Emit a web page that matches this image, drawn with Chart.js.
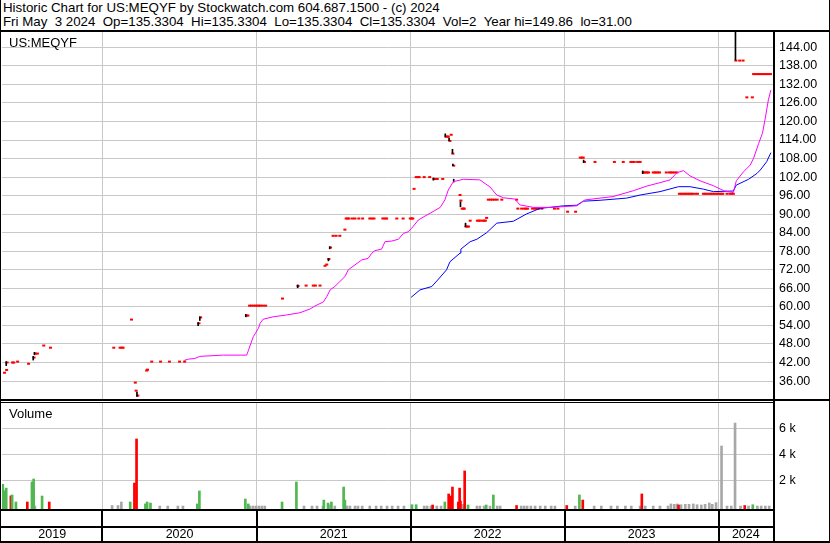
<!DOCTYPE html>
<html>
<head>
<meta charset="utf-8">
<script src="https://cdn.jsdelivr.net/npm/chart.js@4.4.1/dist/chart.umd.min.js"></script>
<style>
    body { margin: 0; background: #fff; }
    #wrap { position: relative; width: 830px; height: 543px; overflow: hidden; font-family: "Liberation Sans", Arial, sans-serif; color: #000; }
    .txt { position: absolute; white-space: pre; }
    .rule { position: absolute; background: #000; }
    canvas { position: absolute; left: 0; }
</style>
</head>
<body>
<div id="wrap">
    <div class="txt" style="left:3px;top:1px;font-size:13.3px;line-height:14px">Historic Chart for US:MEQYF by Stockwatch.com 604.687.1500 - (c) 2024</div>
    <div class="txt" style="left:3px;top:15px;font-size:13.3px;line-height:14px">Fri May  3 2024  Op=135.3304  Hi=135.3304  Lo=135.3304  Cl=135.3304  Vol=2  Year hi=149.86  lo=31.00</div>

    <canvas id="priceChart" width="830" height="367" style="top:32px"></canvas>
    <canvas id="volumeChart" width="830" height="140" style="top:403px"></canvas>

    <div class="txt" style="left:9px;top:36px;font-size:13px;line-height:13px">US:MEQYF</div>
    <div class="txt" style="left:9px;top:407px;font-size:13px;line-height:13px">Volume</div>

    <!-- frame -->
    <div class="rule" style="left:0;top:0;width:1px;height:543px"></div>
    <div class="rule" style="left:829px;top:0;width:1px;height:543px"></div>
    <div class="rule" style="left:0;top:541px;width:830px;height:2px"></div>
    <div class="rule" style="left:0;top:30px;width:830px;height:2px"></div>
    <div class="rule" style="left:773px;top:30px;width:2px;height:513px"></div>
    <div class="rule" style="left:0;top:399px;width:830px;height:2px"></div>
    <div class="rule" style="left:0;top:402px;width:773px;height:1px"></div>
    <div class="rule" style="left:0;top:509px;width:773px;height:2px"></div>
    <div class="rule" style="left:0;top:526px;width:773px;height:2px"></div>
</div>

<script>
// x values are days counted from 1 Jan 2020
const xFirst = -238;
const xLast = 1590;
const yearStarts = [0, 366, 731, 1096, 1461];
const yearNames = ['2019', '2020', '2021', '2022', '2023', '2024'];

const priceMin = 30.2;
const priceMax = 148.95;
const priceTicks = [36, 42, 48, 54, 60, 66, 72, 78, 84, 90, 96, 102, 108, 114, 120, 126, 132, 138, 144];

const volMin = -208;
const volMax = 7946;
const volTicks = [2000, 4000, 6000];

// daily close ticks [day, price]
const closes = [
    [-232, 38.7], [-227, 39.6], [-226, 42.0], [-213, 42.0], [-210, 42.0], [-201, 42.3], [-175, 41.6],
    [-162, 43.6], [-159, 44.9], [-154, 44.9], [-139, 47.5], [-123, 46.8],
    [27, 46.8], [42, 46.8], [46, 46.8], [49, 46.8], [69, 55.9], [78, 35.5], [80, 32.9], [84, 31.3],
    [105, 39.4], [107, 39.7], [117, 42.3], [138, 42.3], [159, 42.3], [183, 42.3], [195, 42.3],
    [229, 54.7], [233, 56.6], [342, 57.2], [345, 57.2], [349, 60.4], [353, 60.4], [358, 60.4],
    [363, 60.4], [367, 60.4], [371, 60.4], [375, 60.4], [381, 60.4], [387, 60.4],
    [427, 62.7], [464, 66.8], [483, 66.9], [500, 66.9], [505, 66.9], [516, 66.9], [528, 73.3],
    [532, 73.7], [537, 75.5], [541, 79.2], [547, 83.0], [554, 83.0], [563, 83.0], [575, 85.0],
    [578, 88.6], [581, 88.6], [585, 88.6], [593, 88.6], [599, 88.6], [608, 88.6], [617, 88.6],
    [634, 88.6], [639, 88.6], [644, 88.6], [665, 88.6], [670, 88.6], [674, 88.6], [698, 88.6],
    [713, 88.6], [730, 88.6], [733, 88.6], [736, 88.6], [739, 98.2],
    [744, 102.0], [748, 102.0], [751, 102.0], [763, 102.0], [776, 102.0], [786, 101.4], [790, 101.4],
    [794, 101.4], [807, 101.4], [815, 115.1], [818, 115.1], [820, 115.1], [824, 113.7], [827, 115.7],
    [831, 109.6], [833, 105.7], [848, 96.2], [850, 94.4], [853, 91.8], [856, 91.8], [858, 91.8],
    [862, 86.0], [865, 86.0], [868, 86.0], [872, 87.9], [889, 87.9], [893, 87.9], [896, 87.9],
    [902, 87.9], [905, 87.9], [908, 87.9], [911, 88.8], [915, 94.7], [920, 94.7], [925, 94.7],
    [930, 94.7], [936, 94.7], [947, 94.7], [982, 94.7], [985, 91.8], [994, 91.8], [1000, 91.8],
    [1004, 91.8], [1008, 91.8], [1020, 91.8], [1025, 91.8], [1030, 91.8], [1034, 91.8], [1042, 91.8],
    [1072, 91.8], [1080, 91.8], [1103, 90.8], [1122, 90.8],
    [1133, 108.3], [1137, 108.3], [1140, 108.3], [1143, 106.9], [1168, 106.9], [1214, 106.9],
    [1235, 106.9], [1253, 106.9], [1257, 106.9], [1261, 106.9], [1269, 106.9], [1275, 106.9],
    [1283, 103.5], [1286, 103.5], [1289, 103.5], [1292, 103.5], [1295, 103.5], [1306, 103.5],
    [1310, 103.5], [1313, 103.5], [1317, 103.5], [1321, 103.5], [1337, 103.5], [1344, 103.5],
    [1348, 103.5], [1352, 103.5], [1357, 103.5], [1362, 103.5],
    [1368, 96.6], [1372, 96.6], [1376, 96.6], [1380, 96.6], [1384, 96.6], [1388, 96.6], [1392, 96.6],
    [1396, 96.6], [1399, 96.6], [1405, 96.6], [1411, 96.6], [1425, 96.6], [1429, 96.6], [1433, 96.6],
    [1438, 96.6], [1442, 96.6], [1446, 96.6], [1450, 96.6], [1455, 96.6], [1459, 96.6], [1463, 96.6],
    [1467, 96.6], [1471, 96.6], [1481, 96.6], [1488, 96.6], [1492, 96.6], [1496, 96.6],
    [1502, 139.7], [1511, 139.7], [1519, 139.7], [1528, 127.8], [1541, 127.8],
    [1544, 135.33], [1548, 135.33], [1552, 135.33], [1556, 135.33], [1560, 135.33], [1564, 135.33],
    [1568, 135.33], [1572, 135.33], [1576, 135.33], [1580, 135.33], [1584, 135.33]
];

// high-low ranges [day, low, high]
const ranges = [
    [-228, 41.0, 42.3], [-164, 42.8, 44.0], [-161, 44.5, 45.3], [82, 31.0, 32.4], [227, 53.9, 54.9],
    [231, 55.6, 56.8], [340, 56.8, 57.6], [463, 66.2, 67.1], [536, 74.9, 75.7], [539, 78.8, 79.5],
    [785, 101.0, 101.7], [813, 115.0, 116.0], [822, 113.8, 114.6], [830, 109.7, 111.0],
    [831, 105.7, 106.2], [833, 100.4, 101.3], [849, 92.4, 94.0], [861, 86.0, 87.1],
    [1141, 106.7, 107.5], [1281, 103.1, 104.0], [1501, 139.9, 149.86]
];

// moving averages [day, value]
const avgFast = [
    [194, 42.7], [204, 43.1], [219, 43.3], [231, 44.0], [287, 44.4], [342, 44.4], [346, 45.8],
    [352, 48.2], [358, 50.4], [363, 51.5], [370, 53.1], [374, 54.7], [381, 56.0], [405, 56.8],
    [437, 57.4], [468, 58.1], [492, 59.3], [504, 60.3], [524, 61.6], [532, 63.3], [540, 65.5],
    [551, 66.6], [563, 68.2], [575, 69.8], [583, 72.0], [599, 73.6], [615, 75.2], [630, 75.7],
    [639, 77.4], [646, 78.2], [662, 78.7], [670, 81.1], [686, 81.3], [702, 81.9], [714, 83.8],
    [725, 84.3], [733, 85.4], [749, 88.1], [765, 89.4], [777, 90.3], [801, 92.2], [812, 94.6],
    [820, 97.8], [832, 100.5], [856, 101.3], [895, 101.1], [919, 98.8], [935, 96.2], [951, 95.3],
    [978, 94.9], [990, 93.0], [1022, 92.2], [1061, 92.2], [1125, 92.7], [1144, 94.6], [1180, 95.2],
    [1211, 95.7], [1259, 97.6], [1291, 99.1], [1322, 100.2], [1346, 101.1], [1362, 103.4],
    [1378, 104.1], [1393, 102.4], [1417, 100.8], [1449, 99.2], [1473, 97.6], [1496, 97.0],
    [1503, 100.8], [1520, 103.7], [1536, 105.9], [1544, 108.1], [1556, 112.9], [1565, 116.2],
    [1571, 120.5], [1579, 127.0], [1585, 130.2]
];
const avgSlow = [
    [732, 63.1], [753, 65.5], [781, 66.6], [793, 68.4], [816, 72.0], [824, 74.6], [848, 77.4],
    [850, 78.7], [872, 81.1], [888, 81.9], [911, 84.0], [935, 87.1], [974, 87.7], [1006, 90.1],
    [1038, 91.9], [1061, 92.2], [1093, 92.7], [1125, 92.9], [1140, 94.2], [1180, 94.5], [1243, 95.2],
    [1275, 96.2], [1322, 97.3], [1366, 98.9], [1393, 98.9], [1425, 98.1], [1449, 97.3], [1496, 97.5],
    [1503, 99.4], [1532, 101.3], [1552, 103.2], [1560, 104.3], [1575, 107.0], [1585, 109.9]
];

// volume [day, shares]
const volUp = [
    [-236, 1700], [-232, 1200], [-228, 1400], [-214, 870], [-205, 330], [-167, 1870], [-163, 2100],
    [-143, 790], [66, 330], [102, 180], [106, 330], [114, 250], [225, 180], [230, 1180], [339, 560],
    [346, 180], [426, 330], [460, 1870], [525, 480], [535, 250], [543, 330], [572, 1480], [575, 480],
    [734, 120], [744, 120], [812, 330], [867, 100], [910, 100], [927, 870], [1131, 870], [1542, 120]
];
const volDown = [
    [-217, 800], [-178, 330], [-126, 330], [76, 1790], [81, 5180], [783, 100], [821, 950], [826, 790],
    [830, 1480], [844, 330], [847, 1400], [849, 400], [859, 2720], [982, 60], [1101, 60], [1139, 480],
    [1279, 950], [1366, 100], [1523, 60]
];
const volFlat = [
    [-160, 20], [23, 60], [37, 60], [45, 330], [136, 20], [155, 20], [179, 20], [191, 20], [350, 20],
    [357, 20], [364, 20], [371, 20], [378, 20], [385, 20], [478, 20], [497, 20], [509, 20], [523, 20],
    [537, 100], [551, 20], [580, 20], [587, 20], [599, 20], [606, 20], [616, 20], [634, 20], [649, 20],
    [661, 20], [675, 20], [687, 20], [701, 20], [715, 20], [763, 20], [770, 20], [779, 20], [793, 20],
    [803, 20], [854, 150], [888, 20], [895, 20], [905, 20], [919, 20], [936, 20], [943, 20], [993, 20],
    [1000, 20], [1007, 20], [1016, 20], [1026, 20], [1038, 20], [1050, 20], [1064, 20], [1073, 20],
    [1121, 20], [1166, 20], [1183, 20], [1206, 20], [1221, 20], [1240, 20], [1254, 20], [1275, 20],
    [1287, 20], [1306, 20], [1322, 20], [1341, 20], [1348, 180], [1356, 150], [1363, 180], [1372, 120],
    [1382, 150], [1391, 150], [1401, 180], [1410, 120], [1420, 100], [1429, 150], [1439, 250],
    [1446, 150], [1455, 280], [1468, 4640], [1481, 20], [1491, 20], [1500, 6400], [1513, 20],
    [1532, 20], [1553, 20], [1562, 20], [1572, 20], [1581, 20]
];

const gridColor = '#c8c8c8';
Chart.defaults.font.family = '"Liberation Sans", Arial, sans-serif';
Chart.defaults.color = '#000';

const toXY = rows => rows.map(([x, y]) => ({ x, y }));

// label positions: middle of each visible year
const yearEdges = [xFirst, ...yearStarts, xLast];
const yearMids = yearNames.map((n, i) => (yearEdges[i] + yearEdges[i + 1]) / 2);

// keep the plot area flush with the panel edges
function noPadding(scale) {
    scale.paddingTop = 0;
    scale.paddingBottom = 0;
    scale.paddingLeft = 0;
    scale.paddingRight = 0;
}

function timeAxis() {
    return {
        type: 'linear',
        min: xFirst,
        max: xLast,
        offset: false,
        afterBuildTicks: scale => { scale.ticks = yearStarts.map(v => ({ value: v })); },
        grid: { color: gridColor, drawTicks: false, offset: false },
        border: { display: false },
        ticks: { display: false },
        afterFit: scale => { scale.height = 0; noPadding(scale); }
    };
}

function valueAxis(min, max, ticks, fmt) {
    return {
        position: 'right',
        min: min,
        max: max,
        afterBuildTicks: scale => { scale.ticks = ticks.map(v => ({ value: v })); },
        grid: { color: gridColor, drawTicks: false },
        border: { display: false },
        ticks: { padding: 6, font: { size: 12.5 }, callback: fmt },
        afterFit: scale => { scale.width = 57; noPadding(scale); }
    };
}

// black dividers between the year cells under the volume panel
const yearCells = {
    id: 'yearCells',
    afterDraw(chart) {
        const ctx = chart.ctx;
        const x = chart.scales.x;
        const bottom = chart.chartArea.bottom;
        ctx.save();
        ctx.fillStyle = '#000';
        yearStarts.forEach(d => {
            const px = Math.round(x.getPixelForValue(d));
            ctx.fillRect(px - 1, bottom, 2, chart.height - bottom);
        });
        ctx.restore();
    }
};

new Chart(document.getElementById('priceChart'), {
    type: 'scatter',
    data: {
        datasets: [
            {
                type: 'line',
                data: toXY(avgFast),
                borderColor: '#ff00ff',
                borderWidth: 1,
                pointRadius: 0,
                tension: 0
            },
            {
                type: 'line',
                data: toXY(avgSlow),
                borderColor: '#0000ff',
                borderWidth: 1,
                pointRadius: 0,
                tension: 0
            },
            {
                type: 'bar',
                data: ranges.map(([x, lo, hi]) => ({ x, y: [lo, hi] })),
                backgroundColor: '#000',
                barThickness: 1,
                grouped: false
            },
            {
                type: 'scatter',
                data: toXY(closes),
                pointStyle: 'line',
                pointRadius: 1.5,
                pointBorderWidth: 2,
                pointBorderColor: '#ff0000',
                borderColor: '#ff0000'
            }
        ]
    },
    options: {
        responsive: false,
        animation: false,
        events: [],
        layout: { padding: { left: 2 }, autoPadding: false },
        plugins: { legend: { display: false }, tooltip: { enabled: false } },
        scales: {
            x: timeAxis(),
            y: valueAxis(priceMin, priceMax, priceTicks, v => v.toFixed(2))
        }
    }
});

new Chart(document.getElementById('volumeChart'), {
    type: 'bar',
    data: {
        datasets: [
            { data: toXY(volUp), backgroundColor: '#50b850' },
            { data: toXY(volDown), backgroundColor: '#ff0000' },
            { data: toXY(volFlat), backgroundColor: '#a8a8a8' }
        ]
    },
    options: {
        responsive: false,
        animation: false,
        events: [],
        layout: { padding: { left: 2 }, autoPadding: false },
        datasets: { bar: { barThickness: 2, grouped: false, base: volMin } },
        plugins: { legend: { display: false }, tooltip: { enabled: false } },
        scales: {
            x: timeAxis(),
            years: {
                type: 'linear',
                position: 'bottom',
                min: xFirst,
                max: xLast,
                offset: false,
                afterBuildTicks: scale => { scale.ticks = yearMids.map(v => ({ value: v })); },
                grid: { display: false },
                border: { display: false },
                ticks: {
                    autoSkip: false,
                    maxRotation: 0,
                    padding: 10,
                    font: { size: 12.5 },
                    callback: (v, i) => yearNames[i]
                },
                afterFit: scale => { scale.height = 34; noPadding(scale); }
            },
            y: valueAxis(volMin, volMax, volTicks, v => (v / 1000) + ' k')
        }
    },
    plugins: [yearCells]
});
</script>
</body>
</html>
